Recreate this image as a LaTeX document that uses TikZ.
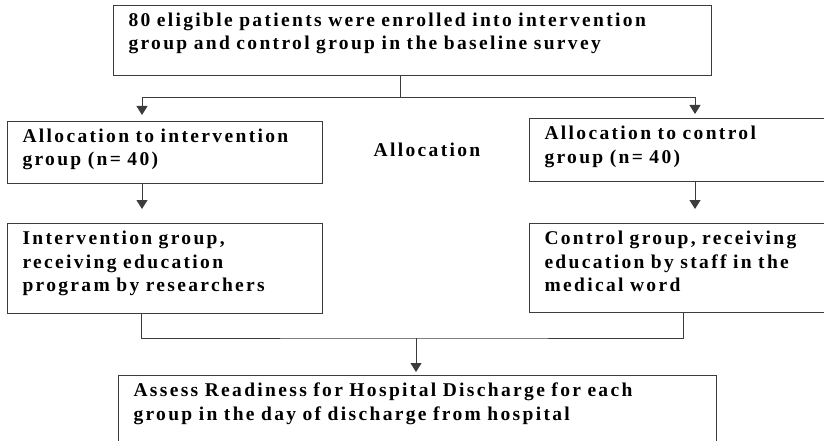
\documentclass[tikz,border=0pt]{standalone}
\usepackage{fontspec}
\setmainfont{Liberation Serif}[LetterSpace=12]
\usepackage{tikz}
\usetikzlibrary{arrows.meta}
\definecolor{FlowLine}{HTML}{3C3C3C}
\tikzset{
  box/.style={draw=FlowLine, line width=1pt, anchor=north west, align=left,
              inner xsep=15pt, inner ysep=8pt, text height=13pt},
  flow/.style={-{Triangle[length=9pt,width=11pt]}, line width=1pt, draw=FlowLine},
  link/.style={line width=1pt, draw=FlowLine}
}

\begin{document}
\begin{tikzpicture}[x=1pt, y=-1pt, font=\bfseries\fontsize{19.5}{23.5}\selectfont]
  \useasboundingbox (0,0) rectangle (824,441);
  \clip (0,0) rectangle (824,441);
  \node[box, text width=568pt, text depth=41pt] (enrol) at (113,5)
    {80 eligible patients were enrolled into intervention\\group and control group in the baseline survey};
  \node[box, text width=285pt, text depth=33pt] (allocint) at (7,121)
    {Allocation to intervention\\group (n= 40)};
  \node[box, text width=330pt, text depth=34pt] (allocctl) at (529,118)
    {Allocation to control\\group (n= 40)};
  \node (alloclbl) at (427,150) {Allocation};
  \node[box, text width=285pt, text depth=61pt] (intgrp) at (7,223)
    {Intervention group,\\receiving education\\program by researchers};
  \node[box, text width=330pt, text depth=60pt] (ctlgrp) at (529,223)
    {Control group, receiving\\education by staff in the\\medical word};
  \node[box, text width=568pt, text depth=100pt] (assess) at (118,375)
    {Assess Readiness for Hospital Discharge for each\\group in the day of discharge from hospital};
  \coordinate (split) at (400,98);
  \coordinate (lcol) at (142,0);
  \coordinate (rcol) at (695,0);
  \coordinate (lmrg) at (141,0);
  \coordinate (rmrg) at (683,0);
  \coordinate (join) at (416,338);
  \draw[link] (enrol.south -| split) -- (split);
  \draw[flow, shorten >=6pt] (split) -| (allocint.north -| lcol);
  \draw[flow, shorten >=4pt] (split) -| (allocctl.north -| rcol);
  \draw[flow, shorten >=14pt] (allocint.south -| lcol) -- (intgrp.north -| lcol);
  \draw[flow, shorten >=14pt] (allocctl.south -| rcol) -- (ctlgrp.north -| rcol);
  \draw[link] (intgrp.south -| lmrg) |- (join) -| (ctlgrp.south -| rmrg);
  \draw[flow, shorten >=3pt] (join) -- (assess.north -| join);
\end{tikzpicture}
\end{document}
